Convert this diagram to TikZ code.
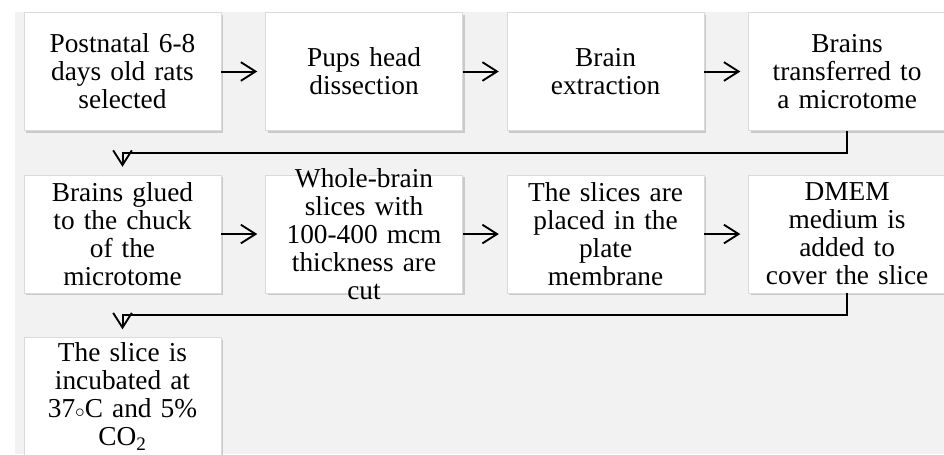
\documentclass[tikz,border=0pt]{standalone}
\usepackage{fontspec}
\setmainfont{Liberation Serif}
\usetikzlibrary{arrows.meta,positioning,shadows}
\definecolor{pagegray}{RGB}{242,242,242}
\definecolor{boxedge}{RGB}{218,218,218}

\begin{document}
\begin{tikzpicture}[
  stepbox/.style={draw=boxedge, fill=white, line width=0.4pt,
                  minimum width=147.75pt, minimum height=88.5pt,
                  text width=142pt, inner sep=2pt, align=center,
                  font=\fontsize{20.5}{21}\selectfont,
                  drop shadow={shadow xshift=1.5pt, shadow yshift=-1.8pt, opacity=0.35}},
  arr/.style={-{Straight Barb[length=11pt, width=14pt, line width=1.4pt]},
              line width=1.5pt, shorten >=6pt},
  node distance=33pt and 33pt
]

%% Page and gray panel
\useasboundingbox (-91.875pt,53.625pt) rectangle (616.125pt,-286.875pt);
\fill[pagegray] (-80.625pt,44.625pt) rectangle (616.125pt,-286.875pt);

%% Row 1
\node[stepbox] (rats) {Postnatal 6-8\\days old rats\\selected};
\node[stepbox, right=of rats] (head) {Pups head\\dissection};
\node[stepbox, right=of head] (extract) {Brain\\extraction};
\node[stepbox, right=of extract] (transfer) {Brains\\transferred to\\a microtome};

%% Row 2
\node[stepbox, below=of rats] (glue) {Brains glued\\to the chuck\\of the\\microtome};
\node[stepbox, right=of glue, inner ysep=-8pt] (cut)
  {Whole-brain\\slices with\\100-400 mcm\\thickness are\\cut};
\node[stepbox, right=of cut] (place) {The slices are\\placed in the\\plate\\membrane};
\node[stepbox, right=of place] (medium) {DMEM\\medium is\\added to\\cover the slice};

%% Row 3
\node[stepbox, below=of glue] (incubate)
  {The slice is\\incubated at\\37$\scriptstyle\circ$C and 5\%\\CO\textsubscript{2}};

%% Arrows along the rows
\draw[arr] (rats) -- (head);
\draw[arr] (head) -- (extract);
\draw[arr] (extract) -- (transfer);
\draw[arr] (glue) -- (cut);
\draw[arr] (cut) -- (place);
\draw[arr] (place) -- (medium);

%% Arrows back to the next row
\draw[arr] (transfer.south) -- ++(0,-16.5pt) -| (glue.north);
\draw[arr] (medium.south) -- ++(0,-16.5pt) -| (incubate.north);

\end{tikzpicture}
\end{document}
